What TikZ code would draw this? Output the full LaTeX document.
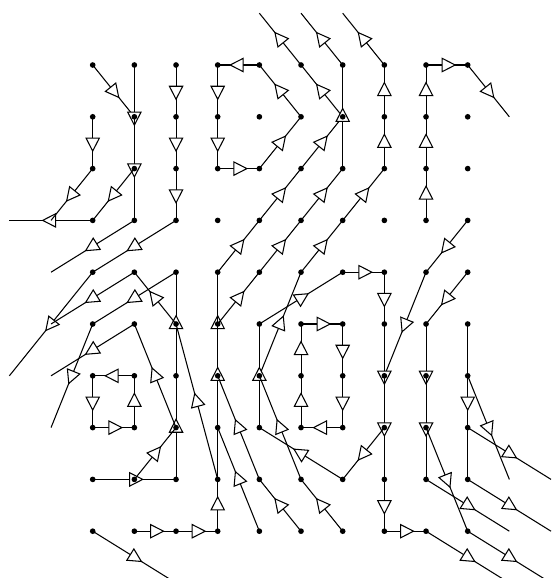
\documentclass[tikz,border=0pt]{standalone}
\usetikzlibrary{decorations.markings}
\begin{document}
\begin{tikzpicture}[line width=0.9pt,
    flow/.style={postaction={decorate},
      decoration={markings, mark=at position 0.5 with
        {\draw[fill=white] (0.25cm,0cm) -- (-0.14cm,0.2cm) -- (-0.14cm,-0.2cm) -- cycle;}}},
    latdot/.style={fill=black}]
    \useasboundingbox (-2.781,-15.39) rectangle (13.929,1.95);
    \clip (-2.781,-15.39) rectangle (13.929,1.95);
    % lattice points, rows counted downwards
    \foreach \col in {-2,...,11}
      \foreach \row in {-1,...,10}
        \coordinate (p\col-\row) at ({1.25*\col},{-1.554*\row});

    % left strands
    \draw[flow] (p0-0) -- (p1-1);
    \draw[flow] (p1-0) -- (p1-2);
    \draw[flow] (p1-1) -- (p1-3);
    \draw[flow] (p1-3) -- (p-1-4);
    \draw[flow] (p1-2) -- (p0-3);
    \draw[flow] (p0-3) -- (p-2-3);
    \draw[flow] (p0-1) -- (p0-2);
    \draw[flow] (p0-2) -- (p-1-3);
    \draw[flow] (p2-0) -- (p2-1);
    \draw[flow] (p2-1) -- (p2-2);
    \draw[flow] (p2-2) -- (p2-3);
    \draw[flow] (p2-3) -- (p0-4);
    \draw[flow] (p0-4) -- (p-2-6);

    % small loop at the top
    \draw[flow] (p4-0) -- (p3-0);
    \draw[flow] (p3-0) -- (p3-1);
    \draw[flow] (p3-1) -- (p3-2);
    \draw[flow] (p3-2) -- (p4-2);
    \draw[flow] (p4-2) -- (p5-1);
    \draw[flow] (p5-1) -- (p4-0);

    % diagonal strands leaving at the top
    \draw[flow] (p3-6) -- (p3-4);
    \draw[flow] (p3-4) -- (p4-3);
    \draw[flow] (p4-3) -- (p5-2);
    \draw[flow] (p5-2) -- (p6-1);
    \draw[flow] (p6-1) -- (p5-0);
    \draw[flow] (p5-0) -- (p4--1);
    \draw[flow] (p3-5) -- (p4-4);
    \draw[flow] (p4-4) -- (p5-3);
    \draw[flow] (p5-3) -- (p6-2);
    \draw[flow] (p6-2) -- (p6-0);
    \draw[flow] (p6-0) -- (p5--1);
    \draw[flow] (p4-6) -- (p5-4);
    \draw[flow] (p5-4) -- (p6-3);
    \draw[flow] (p6-3) -- (p7-2);
    \draw[flow] (p7-2) -- (p7-1);
    \draw[flow] (p7-1) -- (p7-0);
    \draw[flow] (p7-0) -- (p6--1);

    % right strands
    \draw[flow] (p8-3) -- (p8-2);
    \draw[flow] (p8-2) -- (p8-1);
    \draw[flow] (p8-1) -- (p8-0);
    \draw[flow] (p8-0) -- (p9-0);
    \draw[flow] (p9-0) -- (p10-1);
    \draw[flow] (p9-3) -- (p8-4);
    \draw[flow] (p8-4) -- (p7-6);
    \draw[flow] (p9-4) -- (p8-5);
    \draw[flow] (p8-5) -- (p8-7);
    \draw[flow] (p8-6) -- (p8-8);
    \draw[flow] (p8-8) -- (p10-9);
    \draw[flow] (p8-7) -- (p9-9);
    \draw[flow] (p9-9) -- (p11-10);
    \draw[flow] (p9-5) -- (p9-8);
    \draw[flow] (p9-8) -- (p11-9);
    \draw[flow] (p9-6) -- (p10-8);
    \draw[flow] (p9-7) -- (p11-8);

    % middle strand
    \draw[flow] (p4-5) -- (p6-4);
    \draw[flow] (p6-4) -- (p7-4);
    \draw[flow] (p7-4) -- (p7-5);
    \draw[flow] (p7-5) -- (p7-7);
    \draw[flow] (p7-6) -- (p7-8);
    \draw[flow] (p7-8) -- (p7-9);
    \draw[flow] (p7-9) -- (p8-9);
    \draw[flow] (p8-9) -- (p10-10);
    \draw[flow] (p7-7) -- (p6-8);
    \draw[flow] (p6-8) -- (p4-7);
    \draw[flow] (p4-7) -- (p4-5);

    % rectangle
    \draw[flow] (p5-5) -- (p6-5);
    \draw[flow] (p6-5) -- (p6-6);
    \draw[flow] (p6-6) -- (p6-7);
    \draw[flow] (p6-7) -- (p5-7);
    \draw[flow] (p5-7) -- (p5-6);
    \draw[flow] (p5-6) -- (p5-5);

    % lower left
    \draw[flow] (p3-9) -- (p3-8);
    \draw[flow] (p3-8) -- (p3-4);
    \draw[flow] (p2-6) -- (p2-4);
    \draw[flow] (p2-8) -- (p2-6);
    \draw[flow] (p0-8) -- (p2-8);
    \draw[flow] (p1-8) -- (p2-7);
    \draw[flow] (p2-4) -- (p0-5);
    \draw[flow] (p0-5) -- (p-1-7);
    \draw[flow] (p2-5) -- (p1-4);
    \draw[flow] (p1-4) -- (p-1-5);
    \draw[flow] (p2-7) -- (p1-5);
    \draw[flow] (p1-5) -- (p-1-6);
    \draw[flow] (p3-8) -- (p2-5);
    \draw[flow] (p1-6) -- (p0-6);
    \draw[flow] (p0-6) -- (p0-7);
    \draw[flow] (p0-7) -- (p1-7);
    \draw[flow] (p1-7) -- (p1-6);

    % bottom
    \draw[flow] (p1-9) -- (p2-9);
    \draw[flow] (p2-9) -- (p3-9);
    \draw[flow] (p0-9) -- (p2-10);
    \draw[flow] (p4-8) -- (p3-6);
    \draw[flow] (p5-9) -- (p4-8);
    \draw[flow] (p4-9) -- (p3-7);
    \draw[flow] (p5-8) -- (p4-6);
    \draw[flow] (p6-9) -- (p5-8);

    \foreach \col in {0,...,9}
      \foreach \row in {0,...,9}
        \fill[latdot] (p\col-\row) circle (0.085);
\end{tikzpicture}
\end{document}
